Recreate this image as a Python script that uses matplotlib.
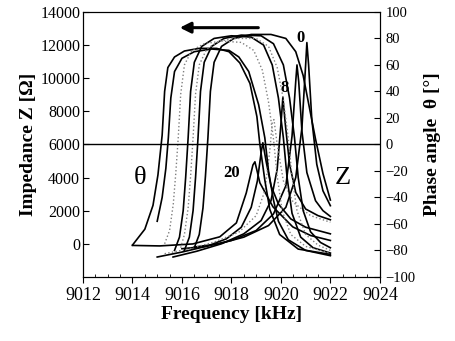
import matplotlib
matplotlib.use('Agg')
import matplotlib.pyplot as plt
from matplotlib.ticker import MultipleLocator

plt.rcParams['font.family'] = ['Liberation Serif', 'DejaVu Serif']

# phase angle curves (solid), frequency in kHz, phase in degrees
p1_f = [9014.0, 9014.5, 9014.83, 9015.03, 9015.2, 9015.3, 9015.43, 9015.7, 9016.1, 9016.7, 9017.4,
        9017.9, 9018.34, 9018.75, 9019.03, 9019.15, 9019.35, 9019.55, 9019.95, 9020.7, 9022.0]
p1_v = [-76, -64, -46, -23, 7, 40, 58, 66, 70.5, 72.5, 72.5, 70, 61.5, 46, 21, 0, -27, -49, -68, -79, -83]

p2_f = [9015.0, 9015.2, 9015.35, 9015.45, 9015.55, 9015.7, 9016.0, 9016.5, 9017.2, 9017.9, 9018.3,
        9018.7, 9019.1, 9019.35, 9019.5, 9019.7, 9019.9, 9020.3, 9021.0, 9022.0]
p2_v = [-58, -40, -18, 5, 35, 55, 65, 70, 72, 71, 66, 55, 30, 5, -20, -42, -58, -72, -80, -84]

p3_f = [9015.7, 9015.9, 9016.05, 9016.15, 9016.25, 9016.35, 9016.5, 9016.8, 9017.3, 9018.0, 9018.8,
        9019.3, 9019.65, 9019.9, 9020.1, 9020.25, 9020.45, 9020.8, 9021.3, 9022.0]
p3_v = [-80, -70, -50, -25, 5, 40, 62, 74, 80, 82, 81, 75, 60, 35, 5, -25, -52, -70, -78, -82]

p4_f = [9016.1, 9016.3, 9016.45, 9016.55, 9016.65, 9016.75, 9016.9, 9017.2, 9017.7, 9018.4, 9019.2,
        9019.7, 9020.1, 9020.35, 9020.55, 9020.7, 9020.9, 9021.2, 9021.6, 9022.0]
p4_v = [-80, -70, -50, -25, 5, 40, 62, 74, 80, 82.5, 82, 76, 60, 35, 5, -25, -50, -66, -74, -78]

p5_f = [9016.5, 9016.7, 9016.85, 9016.95, 9017.05, 9017.15, 9017.3, 9017.6, 9018.1, 9018.8, 9019.6,
        9020.2, 9020.6, 9020.9, 9021.15, 9021.4, 9021.7, 9022.0]
p5_v = [-78, -68, -48, -24, 5, 40, 62, 74, 80, 83, 83, 80, 70, 52, 28, 4, -22, -42]

# phase angle curves (dotted, intermediate)
d1_f = [9015.3, 9015.5, 9015.65, 9015.75, 9015.85, 9015.95, 9016.1, 9016.4, 9016.9, 9017.6, 9018.4,
        9018.9, 9019.25, 9019.5, 9019.7, 9019.85, 9020.05, 9020.4, 9021.0, 9022.0]
d1_v = [-75, -65, -45, -22, 5, 38, 60, 71, 76, 78, 77, 71, 56, 32, 4, -24, -50, -68, -77, -82]

d2_f = [9015.95, 9016.1, 9016.25, 9016.35, 9016.45, 9016.55, 9016.7, 9017.0, 9017.5, 9018.2, 9019.0,
        9019.5, 9019.85, 9020.1, 9020.3, 9020.45, 9020.65, 9021.0, 9021.5, 9022.0]
d2_v = [-78, -68, -48, -24, 5, 38, 60, 72, 78, 80, 80, 74, 58, 34, 4, -24, -50, -68, -76, -80]

# impedance curves (solid), Ohm
z1_f = [9014.0, 9015.1, 9016.44, 9017.53, 9018.2, 9018.6, 9018.87, 9018.95, 9019.15, 9019.68,
        9020.48, 9021.2, 9022.0]
z1_v = [-100, -130, -10, 420, 1260, 3070, 4760, 4950, 3680, 2230, 1020, 500, 200]

z2_f = [9015.0, 9016.0, 9017.0, 9017.8, 9018.4, 9018.8, 9019.05, 9019.2, 9019.27, 9019.4, 9019.6,
        9019.9, 9020.4, 9021.0, 9022.0]
z2_v = [-800, -500, -150, 300, 1000, 2200, 3800, 5500, 6100, 5000, 3500, 2400, 1500, 1000, 600]

z3_f = [9015.64, 9016.6, 9017.6, 9018.5, 9019.2, 9019.6, 9019.85, 9020.0, 9020.08, 9020.18, 9020.35,
        9020.6, 9021.0, 9021.5, 9022.0]
z3_v = [-800, -450, 0, 600, 1400, 2600, 4500, 7200, 8850, 7200, 4800, 3100, 2100, 1700, 1450]

z4_f = [9016.0, 9017.0, 9018.0, 9019.0, 9019.7, 9020.2, 9020.45, 9020.6, 9020.65, 9020.72, 9020.85,
        9021.05, 9021.4, 9021.7, 9022.0]
z4_v = [-300, -150, 200, 800, 1800, 3500, 6500, 9800, 10800, 9800, 6800, 4300, 2600, 2000, 1650]

z5_f = [9016.5, 9017.5, 9018.5, 9019.5, 9020.2, 9020.6, 9020.85, 9021.0, 9021.05, 9021.12, 9021.25,
        9021.45, 9021.7, 9022.0]
z5_v = [-200, 0, 400, 1100, 2200, 4000, 7000, 10800, 12150, 10800, 7500, 4800, 3200, 2300]

# impedance curve (dotted, intermediate)
zd_f = [9015.3, 9016.3, 9017.3, 9018.3, 9019.0, 9019.35, 9019.55, 9019.65, 9019.72, 9019.85, 9020.1,
        9020.5, 9021.2, 9022.0]
zd_v = [-600, -300, 100, 700, 1700, 3200, 5600, 7300, 7500, 6000, 3800, 2500, 1700, 1300]

fig = plt.figure(figsize=(4.56, 3.41), dpi=100)
ax = fig.add_axes([0.182, 0.188, 0.651, 0.777])
ax2 = ax.twinx()

for f, v in [(z1_f, z1_v), (z2_f, z2_v), (z3_f, z3_v), (z4_f, z4_v), (z5_f, z5_v)]:
    ax.plot(f, v, color='k', lw=1.2)
ax.plot(zd_f, zd_v, color='0.5', lw=1.0, ls=':')

for f, v in [(p1_f, p1_v), (p2_f, p2_v), (p3_f, p3_v), (p4_f, p4_v), (p5_f, p5_v)]:
    ax2.plot(f, v, color='k', lw=1.2)
for f, v in [(d1_f, d1_v), (d2_f, d2_v)]:
    ax2.plot(f, v, color='0.5', lw=1.0, ls=':')

ax2.axhline(0, color='k', lw=1.0)

ax.set_xlim(9012, 9024)
ax.set_ylim(-2000, 14000)
ax2.set_ylim(-100, 100)
ax.set_xticks(range(9012, 9025, 2))
ax.xaxis.set_minor_locator(MultipleLocator(0.5))
ax.set_yticks(range(0, 14001, 2000))
ax2.set_yticks(range(-100, 101, 20))

ax.tick_params(axis='x', which='major', direction='out', length=4, labelsize=13, pad=3)
ax.tick_params(axis='x', which='minor', direction='in', length=2.5)
ax.tick_params(axis='y', direction='in', length=4, labelsize=11.5, pad=2)
ax2.tick_params(axis='y', direction='in', length=4, labelsize=10.5, pad=4)

ax.set_xlabel('Frequency [kHz]', fontsize=14, fontweight='bold', labelpad=2)
ax.set_ylabel('Impedance Z [Ω]', fontsize=14, fontweight='bold', labelpad=2)
ax2.set_ylabel('Phase angle  θ [°]', fontsize=14, fontweight='bold', labelpad=6)

# arrow showing the shift of the curves
ax.annotate('', xy=(9015.8, 13050), xytext=(9019.2, 13050),
            arrowprops=dict(arrowstyle='-|>', color='k', lw=2.2, mutation_scale=16))

ax.text(9020.8, 12400, '0', fontsize=12, fontweight='bold', ha='center', va='center')
ax.text(9020.15, 9400, '8', fontsize=12, fontweight='bold', ha='center', va='center')
ax.text(9018.0, 4300, '20', fontsize=12, fontweight='bold', ha='center', va='center')
ax.text(9014.3, 4000, 'θ', fontsize=19, ha='center', va='center')
ax.text(9022.5, 4000, 'Z', fontsize=19, ha='center', va='center')

fig.savefig('out.png', dpi=100)
